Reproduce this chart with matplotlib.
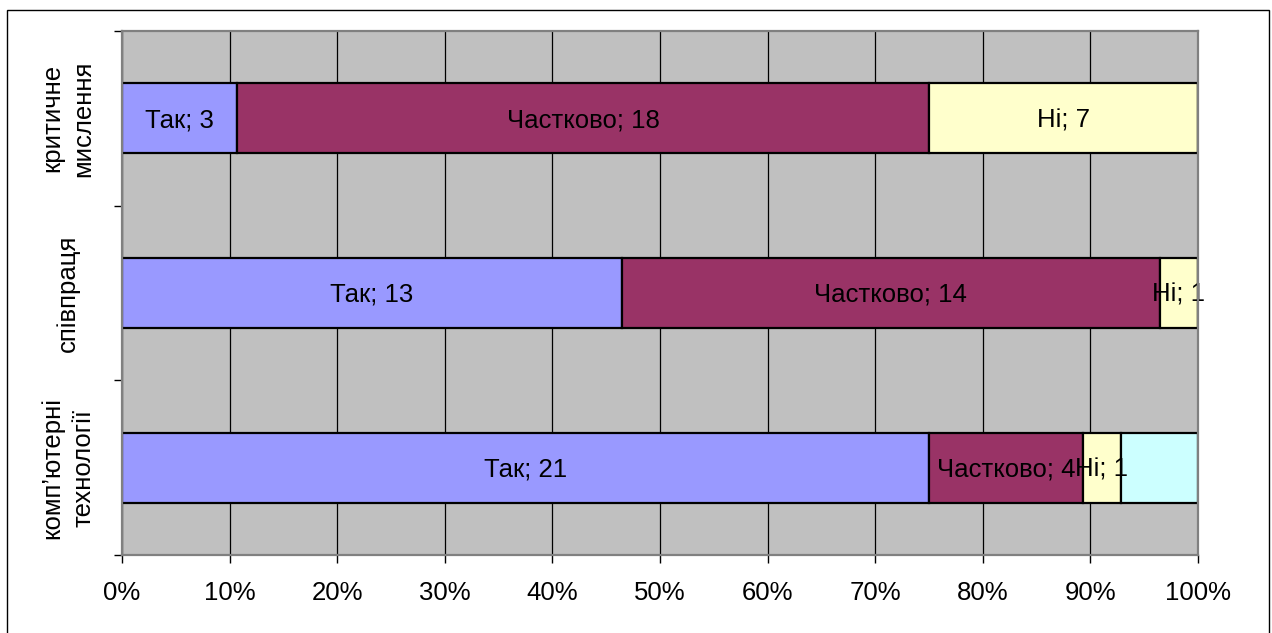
import matplotlib.pyplot as plt
import numpy as np
from matplotlib.patches import Rectangle

# categories, bottom to top
categories = ["комп’ютерні\nтехнології", "співпраця", "критичне\nмислення"]
series_names = ["Так", "Частково", "Ні", "Інше"]
tak = [21, 13, 3]
chastkovo = [4, 14, 18]
ni = [1, 1, 7]
inshe = [2, 0, 0]
show_label = [True, True, True, False]
colors = ["#9999FF", "#993366", "#FFFFCC", "#CCFFFF"]

plt.rcParams["font.family"] = ["Liberation Sans", "DejaVu Sans"]
plt.rcParams["font.size"] = 18.5

values = np.array([tak, chastkovo, ni, inshe], dtype=float)
totals = values.sum(axis=0)
shares = values / totals * 100

fig = plt.figure(figsize=(12.72, 6.33), dpi=100)
fig.patches.append(Rectangle((7 / 1272, -0.05), 1262 / 1272, 1.05 - 10 / 633,
                             transform=fig.transFigure, fill=False,
                             edgecolor="black", linewidth=1.0))
ax = fig.add_axes([122 / 1272, 1 - 555 / 633, 1076 / 1272, 524 / 633])
ax.set_facecolor("#C0C0C0")

y = np.arange(len(categories))
left = np.zeros(len(categories))
for k, name in enumerate(series_names):
    ax.barh(y, shares[k], left=left, height=0.4, color=colors[k],
            edgecolor="black", linewidth=1.6, zorder=3)
    if show_label[k]:
        for i in range(len(categories)):
            if values[k, i] > 0:
                ax.text(left[i] + shares[k, i] / 2, y[i] - 0.01,
                        f"{name}; {int(values[k, i])}",
                        ha="center", va="center", zorder=4)
    left += shares[k]

ax.set_xlim(0, 100)
ax.set_ylim(-0.5, 2.5)
ax.set_xticks(np.arange(0, 101, 10))
ax.set_xticklabels([f"{t}%" for t in range(0, 101, 10)])
ax.xaxis.grid(True, color="black", linewidth=0.9, zorder=1)
ax.set_axisbelow(True)

ax.set_yticks([-0.5, 0.5, 1.5, 2.5])
ax.set_yticklabels([])
ax.set_yticks(y, minor=True)
ax.set_yticklabels(categories, minor=True, rotation=90, va="center",
                   ha="center", multialignment="center", linespacing=1.4)
ax.tick_params(axis="y", which="minor", length=0, pad=39)
ax.tick_params(axis="both", which="major", length=6, width=1.0, color="black")
ax.tick_params(axis="x", pad=13)

for s in ax.spines.values():
    s.set_color("#808080")
    s.set_linewidth(1.6)
    s.set_zorder(5)

fig.savefig("out.png", dpi=100)
